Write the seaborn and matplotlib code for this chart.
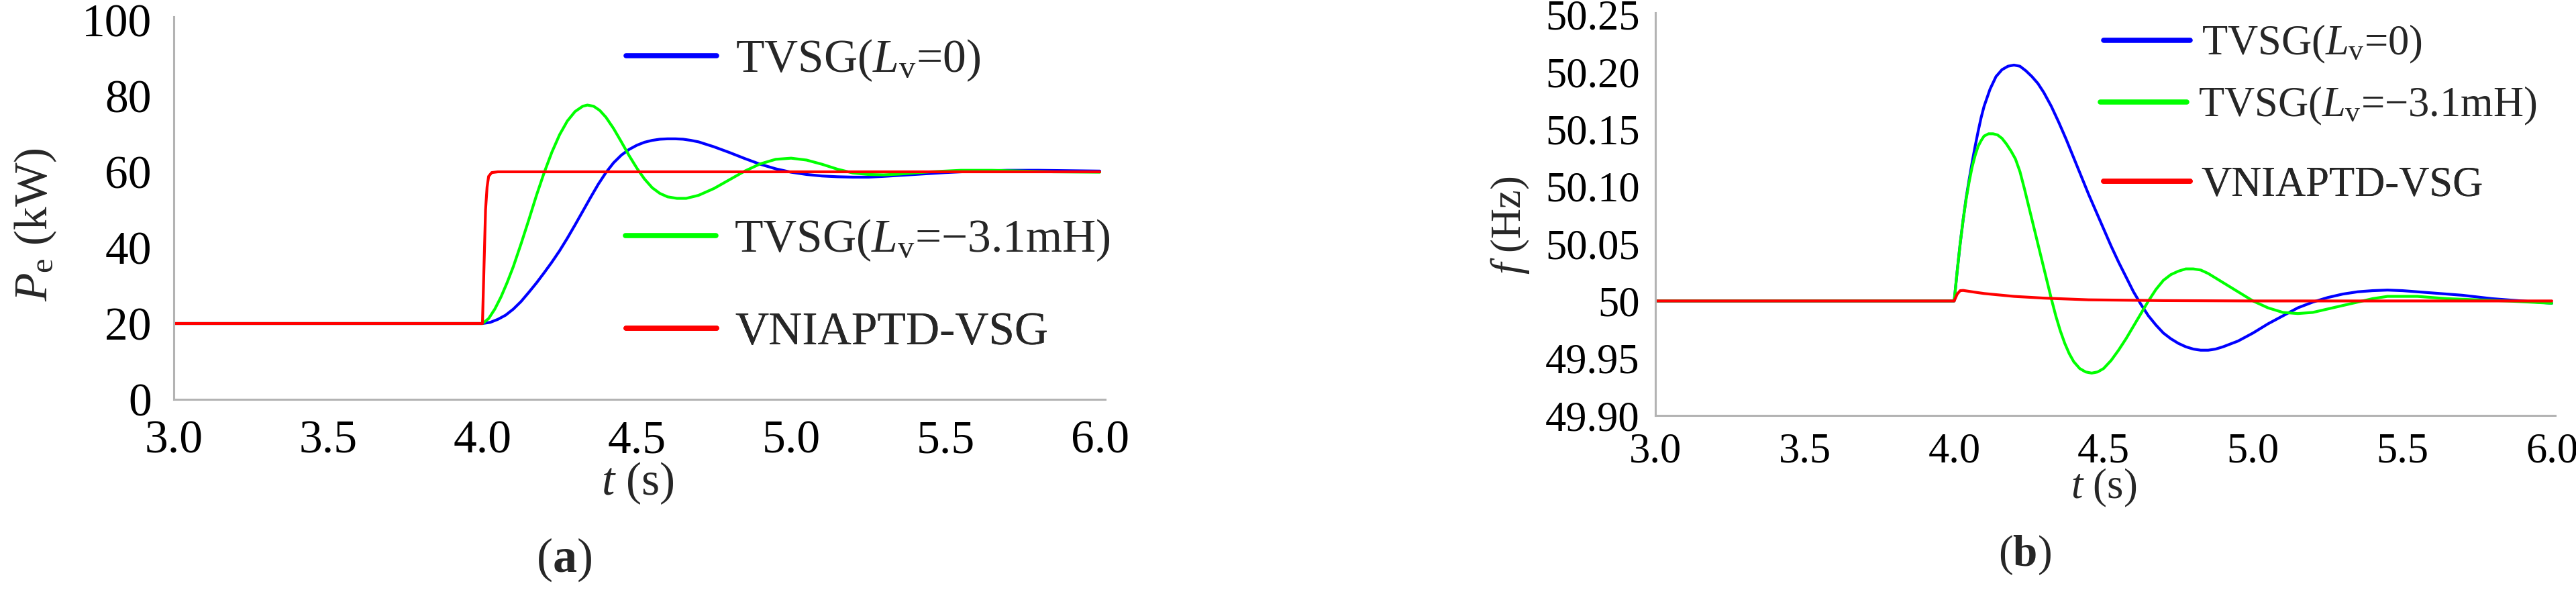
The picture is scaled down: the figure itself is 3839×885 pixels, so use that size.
import numpy as np
import pandas as pd
import matplotlib
matplotlib.use("Agg")
import matplotlib.pyplot as plt
import seaborn as sns
from matplotlib.lines import Line2D

# ---------------- data ----------------
# Panel (a): output active power Pe (kW)
pa_blue_t = [3.0, 4.0, 4.025, 4.05, 4.075, 4.10, 4.125, 4.15, 4.175, 4.20, 4.225, 4.25, 4.275,
             4.30, 4.325, 4.35, 4.375, 4.40, 4.425, 4.45, 4.475, 4.50, 4.525, 4.55, 4.575,
             4.60, 4.625, 4.65, 4.675, 4.70, 4.75, 4.80, 4.85, 4.90, 4.95, 5.00, 5.05, 5.10,
             5.15, 5.20, 5.25, 5.30, 5.40, 5.50, 5.60, 5.70, 5.80, 5.90, 6.00]
pa_blue_p = [20, 20, 20.3, 21.1, 22.2, 23.8, 25.8, 28.2, 30.7, 33.4, 36.2, 39.2, 42.5,
             46.0, 49.6, 53.2, 56.7, 59.8, 62.4, 64.4, 65.9, 67.0, 67.8, 68.3, 68.6,
             68.7, 68.7, 68.6, 68.3, 67.9, 66.6, 65.1, 63.5, 62.0, 60.8, 59.9, 59.3, 58.9,
             58.7, 58.6, 58.6, 58.8, 59.3, 59.8, 60.2, 60.4, 60.4, 60.3, 60.2]

pa_green_t = [3.0, 4.0, 4.02, 4.04, 4.06, 4.08, 4.10, 4.125, 4.15, 4.175, 4.20, 4.225, 4.25,
              4.275, 4.30, 4.325, 4.34, 4.36, 4.38, 4.40, 4.425, 4.45, 4.475, 4.50, 4.525,
              4.55, 4.575, 4.60, 4.63, 4.66, 4.70, 4.75, 4.80, 4.85, 4.90, 4.95, 5.00, 5.05,
              5.10, 5.15, 5.20, 5.25, 5.30, 5.35, 5.45, 5.55, 5.65, 5.75, 5.85, 6.00]
pa_green_p = [20, 20, 21.3, 23.8, 27.0, 30.8, 35.0, 41.0, 47.3, 53.8, 59.8, 65.2, 69.8,
              73.4, 75.9, 77.3, 77.6, 77.3, 76.2, 74.4, 71.4, 67.9, 64.3, 61.0, 58.1,
              55.8, 54.3, 53.4, 53.0, 53.0, 53.8, 55.6, 57.9, 60.2, 62.1, 63.3, 63.6, 63.1,
              62.0, 60.7, 59.7, 59.3, 59.2, 59.4, 60.0, 60.4, 60.4, 60.2, 60.0, 59.9]

pa_red_t = [3.0, 4.0, 4.005, 4.01, 4.015, 4.02, 4.03, 4.05, 6.0]
pa_red_p = [20, 20, 35, 50, 56, 58.8, 59.8, 60, 60]

# Panel (b): frequency f (Hz)
pb_blue_t = [3.0, 4.0, 4.01, 4.02, 4.03, 4.04, 4.05, 4.06, 4.07, 4.08, 4.09, 4.10, 4.12, 4.14,
             4.16, 4.18, 4.20, 4.22, 4.24, 4.26, 4.28, 4.30, 4.325, 4.35, 4.375, 4.40, 4.425,
             4.45, 4.475, 4.50, 4.525, 4.55, 4.575, 4.60, 4.625, 4.65, 4.675, 4.70, 4.725,
             4.75, 4.775, 4.80, 4.825, 4.85, 4.875, 4.90, 4.95, 5.00, 5.05, 5.10, 5.15, 5.20,
             5.25, 5.30, 5.35, 5.40, 5.45, 5.50, 5.55, 5.60, 5.70, 5.80, 5.90, 6.00]
pb_blue_f = [50.0, 50.0, 50.026, 50.050, 50.071, 50.090, 50.106, 50.121, 50.135, 50.148,
             50.160, 50.170, 50.185, 50.196, 50.202, 50.205, 50.206, 50.205, 50.201, 50.196,
             50.190, 50.182, 50.170, 50.156, 50.141, 50.125, 50.109, 50.093, 50.078, 50.063,
             50.048, 50.034, 50.021, 50.008, 49.997, 49.987, 49.979, 49.972, 49.967, 49.963,
             49.960, 49.958, 49.957, 49.957, 49.958, 49.960, 49.965, 49.972, 49.980, 49.987,
             49.994, 49.999, 50.003, 50.006, 50.008, 50.009, 50.0095, 50.009, 50.008, 50.007,
             50.005, 50.002, 50.000, 49.998]

pb_green_t = [3.0, 4.0, 4.01, 4.02, 4.03, 4.04, 4.05, 4.06, 4.07, 4.08, 4.09, 4.10, 4.115,
              4.13, 4.145, 4.16, 4.175, 4.19, 4.205, 4.22, 4.235, 4.25, 4.265, 4.28, 4.295,
              4.31, 4.325, 4.34, 4.355, 4.37, 4.385, 4.40, 4.42, 4.44, 4.46, 4.48, 4.50,
              4.525, 4.55, 4.575, 4.60, 4.625, 4.65, 4.675, 4.70, 4.725, 4.75, 4.775, 4.80,
              4.825, 4.85, 4.875, 4.90, 4.95, 5.00, 5.05, 5.10, 5.15, 5.20, 5.25, 5.30, 5.35,
              5.40, 5.45, 5.50, 5.55, 5.65, 5.75, 5.85, 6.00]
pb_green_f = [50.0, 50.0, 50.026, 50.050, 50.071, 50.089, 50.104, 50.117, 50.127, 50.135,
              50.140, 50.144, 50.146, 50.146, 50.145, 50.142, 50.137, 50.131, 50.124, 50.113,
              50.098, 50.082, 50.066, 50.050, 50.034, 50.018, 50.002, 49.987, 49.974, 49.963,
              49.954, 49.947, 49.941, 49.938, 49.937, 49.938, 49.941, 49.948, 49.957, 49.967,
              49.978, 49.989, 50.000, 50.010, 50.018, 50.023, 50.026, 50.028, 50.028, 50.027,
              50.024, 50.020, 50.016, 50.008, 50.000, 49.994, 49.990, 49.989, 49.990, 49.993,
              49.996, 49.999, 50.002, 50.004, 50.004, 50.004, 50.002, 50.001, 50.000, 49.998]

pb_red_t = [3.0, 4.0, 4.01, 4.02, 4.03, 4.06, 4.10, 4.20, 4.30, 4.45, 4.70, 5.00, 6.00]
pb_red_f = [50.0, 50.0, 50.006, 50.009, 50.0092, 50.008, 50.0065, 50.004, 50.0025, 50.001,
            50.0003, 50.0, 50.0]

series_labels = [r"TVSG($\mathit{L}_{\mathrm{v}}$=0)",
                 r"TVSG($\mathit{L}_{\mathrm{v}}$=−3.1mH)",
                 "VNIAPTD-VSG"]
series_colors = ["#0000ff", "#00ff00", "#ff0000"]

x_ticks = [3.0, 3.5, 4.0, 4.5, 5.0, 5.5, 6.0]
x_ticklabels = ["3.0", "3.5", "4.0", "4.5", "5.0", "5.5", "6.0"]
a_yticks = [0, 20, 40, 60, 80, 100]
a_yticklabels = ["0", "20", "40", "60", "80", "100"]
b_yticks = [49.90, 49.95, 50.00, 50.05, 50.10, 50.15, 50.20, 50.25]
b_yticklabels = ["49.90", "49.95", "50", "50.05", "50.10", "50.15", "50.20", "50.25"]

# ---------------- style ----------------
sns.set_style("white")
plt.rcParams['font.family'] = ['Liberation Serif', 'DejaVu Serif']
plt.rcParams['mathtext.fontset'] = 'custom'
plt.rcParams['mathtext.rm'] = 'Liberation Serif'
plt.rcParams['mathtext.it'] = 'Liberation Serif:italic'
plt.rcParams['mathtext.bf'] = 'Liberation Serif:bold'

W, H = 3839, 885
fig = plt.figure(figsize=(W / 100, H / 100), dpi=100)
fig.patch.set_facecolor("white")


def px_axes(x0, y0, x1, y1):
    return fig.add_axes([x0 / W, 1 - y1 / H, (x1 - x0) / W, (y1 - y0) / H])


axA = px_axes(259, 25, 1647, 595)
axB = px_axes(2467, 19, 3808, 619)

LW = 3.0
for t, v, c in [(pa_blue_t, pa_blue_p, series_colors[0]),
                (pa_green_t, pa_green_p, series_colors[1]),
                (pa_red_t, pa_red_p, series_colors[2])]:
    sns.lineplot(x=t, y=v, ax=axA, color=c, linewidth=LW, estimator=None, sort=False, legend=False)
for t, v, c in [(pb_blue_t, pb_blue_f, series_colors[0]),
                (pb_green_t, pb_green_f, series_colors[1]),
                (pb_red_t, pb_red_f, series_colors[2])]:
    sns.lineplot(x=t, y=v, ax=axB, color=c, linewidth=LW, estimator=None, sort=False, legend=False)

axA.set_xlim(3, 3 + (1647 - 259) / 460.0)
axA.set_ylim(0, 100 * (595 - 25) / 565.0)
axB.set_xlim(3, 3 + (3808 - 2467) / 445.33)
axB.set_ylim(49.90, 49.90 + (619 - 19) / 1706.0)

spine_c = "#b3b3b3"
tick_c = "#c6c6c6"
for ax, fs, padx, pady, tl in [(axA, 50, 22, 23.8, 12.2), (axB, 45, 18.7, 17, 11)]:
    for s in ["top", "right"]:
        ax.spines[s].set_visible(False)
    for s in ["left", "bottom"]:
        ax.spines[s].set_color(spine_c)
        ax.spines[s].set_linewidth(2.2)
    ax.set_xticks(x_ticks)
    ax.set_xticklabels(x_ticklabels)
    ax.tick_params(axis="x", direction="in", length=tl, width=2.2, color=tick_c,
                   labelsize=fs, pad=padx, labelcolor="black")
    ax.tick_params(axis="y", direction="in", length=tl, width=2.2, color=tick_c,
                   labelsize=fs, pad=pady, labelcolor="black")
    ax.grid(False)

axA.set_yticks(a_yticks)
axA.set_yticklabels(a_yticklabels)
axB.set_yticks(b_yticks)
axB.set_yticklabels(b_yticklabels)

# axis labels
axA.set_xlabel(r"$\mathit{t}$ (s)", fontsize=50)
axA.xaxis.label.set_va("center")
axA.xaxis.set_label_coords(0.498, (595 - 720) / 570.0)
axA.set_ylabel(r"$\mathit{P}_{\mathrm{e}}$ (kW)", fontsize=50)
axA.yaxis.label.set_va("center")
axA.yaxis.set_label_coords((53 - 259) / 1388.0, (595 - 335) / 570.0)

axB.set_xlabel(r"$\mathit{t}$ (s)", fontsize=45)
axB.xaxis.label.set_va("center")
axB.xaxis.set_label_coords(0.498, (619 - 727) / 600.0)
axB.set_ylabel(r"$\mathit{f}$ (Hz)", fontsize=45)
axB.yaxis.label.set_va("center")
axB.yaxis.set_label_coords((2250 - 2467) / 1341.0, (619 - 336) / 600.0)


def add_entry(ax, color, label, x_px, y_px, fs, hl, pad):
    h = Line2D([], [], color=color, lw=5.5, solid_capstyle="round")
    leg = ax.legend([h], [label], loc="center left",
                    bbox_to_anchor=(x_px / W, 1 - y_px / H),
                    bbox_transform=fig.transFigure, frameon=False, fontsize=fs,
                    handlelength=hl, handletextpad=pad, borderpad=0, borderaxespad=0)
    ax.add_artist(leg)


for (c, lab, xp, yp) in zip(series_colors, series_labels, [933, 932, 933], [90, 358, 496]):
    add_entry(axA, c, lab, xp, yp, 50, 1.94, 0.4)
for (c, lab, xp, yp) in zip(series_colors, series_labels, [3135, 3130, 3135], [66, 158, 277]):
    add_entry(axB, c, lab, xp, yp, 45, 2.06, 0.27)

fig.text(841 / W, 1 - 834 / H, r"($\mathbf{a}$)", fontsize=52, ha="center", va="center")
fig.text(3017 / W, 1 - 827 / H, r"($\mathbf{b}$)", fontsize=47, ha="center", va="center")

fig.savefig("out.png", dpi=100, facecolor="white")
